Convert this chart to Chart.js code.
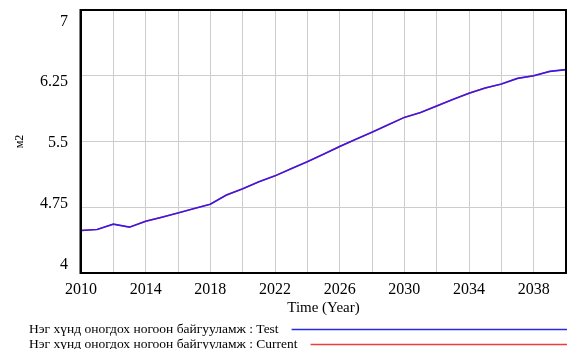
<!DOCTYPE html>
<html>
<head>
<meta charset="utf-8">
<script src="https://cdn.jsdelivr.net/npm/chart.js@4.4.0/dist/chart.umd.min.js"></script>
<style>
  html, body { margin: 0; padding: 0; background: #fff; }
  #wrap { width: 567px; height: 349px; }
</style>
</head>
<body>
<div id="wrap"><canvas id="chart" width="567" height="349"></canvas></div>
<script>
// Green space per person, simulated by year
const years = [2010, 2011, 2012, 2013, 2014, 2015, 2016, 2017, 2018, 2019,
               2020, 2021, 2022, 2023, 2024, 2025, 2026, 2027, 2028, 2029,
               2030, 2031, 2032, 2033, 2034, 2035, 2036, 2037, 2038, 2039, 2040];
const testRun = [4.485, 4.497, 4.557, 4.523, 4.59, 4.636, 4.685, 4.735, 4.785, 4.89,
                 4.96, 5.04, 5.108, 5.19, 5.27, 5.355, 5.443, 5.525, 5.606, 5.69,
                 5.775, 5.83, 5.905, 5.98, 6.05, 6.11, 6.155, 6.22, 6.25, 6.30, 6.32];
const currentRun = testRun.slice();
const yTicks = [4, 4.75, 5.5, 6.25, 7];
const seriesNames = ['Нэг хүнд оногдох ногоон байгууламж : Test',
                     'Нэг хүнд оногдох ногоон байгууламж : Current'];

const BLUE = 'rgb(40,40,235)';
const RED = 'rgb(240,60,60)';
const SERIF = '"Liberation Serif", "DejaVu Serif", serif';

// y labels, y title, frame and legend are painted by hand (Vensim look)
const vensimDecor = {
  id: 'vensimDecor',
  afterDraw(chart) {
    const { ctx, chartArea: a, scales } = chart;
    const ys = scales.y;
    ctx.save();

    // frame
    ctx.strokeStyle = '#000';
    ctx.lineWidth = 2;
    ctx.strokeRect(a.left, a.top, a.right - a.left, a.bottom - a.top);
    ctx.fillStyle = '#000';
    ctx.fillRect(a.left - 1.5, a.top - 1, 2, a.bottom - a.top + 2);

    // y tick labels, pulled slightly toward the middle
    const mid = (a.top + a.bottom) / 2;
    ctx.font = '16px ' + SERIF;
    ctx.textAlign = 'right';
    ctx.textBaseline = 'middle';
    yTicks.forEach(v => {
      const py = ys.getPixelForValue(v);
      ctx.fillText(String(v), a.left - 13, mid + (py - mid) * 0.924 + 1.5);
    });

    // y title
    ctx.font = '12px ' + SERIF;
    ctx.translate(20, mid);
    ctx.rotate(-Math.PI / 2);
    ctx.textAlign = 'center';
    ctx.fillText('м2', 0, 0);
    ctx.setTransform(1, 0, 0, 1, 0, 0);

    // legend rows: name then a line to the right edge
    ctx.font = '13.5px ' + SERIF;
    ctx.textAlign = 'left';
    ctx.textBaseline = 'middle';
    chart.data.datasets.forEach((ds, i) => {
      const rowY = 329.5 + i * 15;
      ctx.fillStyle = '#000';
      ctx.fillText(ds.label, 29, rowY);
      const w = ctx.measureText(ds.label).width;
      ctx.strokeStyle = ds.legendColor;
      ctx.lineWidth = 1.5;
      ctx.beginPath();
      ctx.moveTo(29 + w + 13, rowY);
      ctx.lineTo(567, rowY);
      ctx.stroke();
    });
    ctx.restore();
  }
};

new Chart(document.getElementById('chart'), {
  type: 'line',
  data: {
    labels: years,
    datasets: [
      {
        label: seriesNames[0],
        data: years.map((x, i) => ({ x, y: testRun[i] })),
        borderColor: 'rgba(45,20,240,0.93)',
        legendColor: BLUE,
        borderWidth: 1.6,
        pointRadius: 0,
        tension: 0,
        order: 0
      },
      {
        label: seriesNames[1],
        data: years.map((x, i) => ({ x, y: currentRun[i] })),
        borderColor: RED,
        legendColor: RED,
        borderWidth: 1.4,
        pointRadius: 0,
        tension: 0,
        order: 1
      }
    ]
  },
  options: {
    responsive: false,
    animation: false,
    devicePixelRatio: 1,
    layout: { padding: { top: 10, right: 1, bottom: 32, left: 0 } },
    plugins: {
      legend: { display: false },
      tooltip: { enabled: false }
    },
    scales: {
      x: {
        type: 'linear',
        min: 2010,
        max: 2040,
        afterFit: s => { s.height = 44; s.paddingLeft = 0; s.paddingRight = 0; },
        ticks: {
          stepSize: 2,
          padding: 7,
          color: '#000',
          font: { family: SERIF, size: 16 },
          maxRotation: 0,
          autoSkip: false,
          callback: v => ((v - 2010) % 4 === 0 && v < 2040 ? String(v) : '')
        },
        grid: { color: 'rgb(205,205,205)', lineWidth: 1, drawTicks: false },
        border: { display: false },
        title: {
          display: true,
          text: 'Time (Year)',
          color: '#000',
          font: { family: SERIF, size: 15 },
          padding: { top: 1, bottom: 0 }
        }
      },
      y: {
        min: 4,
        max: 7,
        afterFit: s => { s.width = 81; },
        afterBuildTicks: s => { s.ticks = yTicks.map(v => ({ value: v })); },
        ticks: { display: false },
        grid: { color: 'rgb(205,205,205)', lineWidth: 1, drawTicks: false },
        border: { display: false }
      }
    }
  },
  plugins: [vensimDecor]
});
</script>
</body>
</html>
